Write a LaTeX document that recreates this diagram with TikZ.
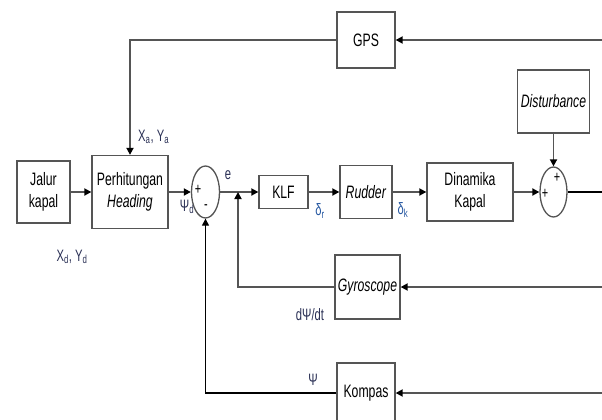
\documentclass[tikz,border=0pt]{standalone}
\usepackage{fontspec}
\setmainfont[FakeStretch=0.68]{Liberation Sans}
\usetikzlibrary{arrows.meta,shapes.geometric}
\definecolor{ln}{HTML}{555555}
\definecolor{lab}{HTML}{2A3055}
\definecolor{dlt}{HTML}{2456A0}
\begin{document}
\begin{tikzpicture}[x=1pt,y=-1pt,
 blk/.style={draw=ln, line width=1.3pt, fill=white, inner sep=0pt, font=\fontsize{18}{22}\selectfont, align=center},
 sumnode/.style={ellipse, draw=ln, line width=1.3pt, inner sep=0pt},
 conn/.style={draw=ln, line width=1.7pt},
 arr/.style={conn, -{Triangle[length=7pt,width=7pt,color=black]}},
 kline/.style={draw=black, line width=1.1pt},
 lbl/.style={text=lab, font=\fontsize{16.5}{18}\selectfont, inner sep=0pt},
 sgn/.style={text=black, font=\fontsize{16}{16}\selectfont, inner sep=0pt}
]
\useasboundingbox (0,0) rectangle (602,420);

\node[blk, minimum width=53pt, minimum height=62pt] (jalur) at (43.5,192) {Jalur\\kapal};
\node[blk, minimum width=76pt, minimum height=73pt] (perh) at (130,192) {Perhitungan\\\textit{Heading}};
\node[sumnode, minimum width=28pt, minimum height=52pt] (s1) at (205.5,192) {};
\node[blk, minimum width=49pt, minimum height=33pt] (klf) at (283.5,192) {KLF};
\node[blk, minimum width=52pt, minimum height=53pt] (rud) at (366,192) {\textit{Rudder}};
\node[blk, minimum width=86pt, minimum height=58pt] (din) at (470,192) {Dinamika\\Kapal};
\node[sumnode, minimum width=27pt, minimum height=50pt] (s2) at (553.5,192) {};
\node[blk, minimum width=72pt, minimum height=63pt] (dist) at (553.5,101.5) {\textit{Disturbance}};
\node[blk, minimum width=58pt, minimum height=56pt] (gps) at (366,40) {GPS};
\node[blk, minimum width=65pt, minimum height=64pt] (gyro) at (367.5,287) {\textit{Gyroscope}};
\node[blk, minimum width=58pt, minimum height=60pt] (komp) at (366,393) {Kompas};

\coordinate (j) at (238,192);
\coordinate (outR) at (602,192);
\coordinate (gpsR) at (602,40);
\coordinate (gpsC) at (130,40);
\coordinate (gyR) at (602,287);
\coordinate (gyL) at (238,287);
\coordinate (kR) at (602,393);
\coordinate (kL) at (205.5,393);

\draw[arr] (jalur) -- (perh);
\draw[arr] (perh) -- (s1);
\draw[arr] (s1) -- (klf);
\draw[arr] (klf) -- (rud);
\draw[arr] (rud) -- (din);
\draw[arr] (din) -- (s2);
\draw[arr] (dist) -- (s2);
\draw[black, line width=2.8pt] (s2) -- (outR);
\draw[arr] (gpsR) -- (gps);
\draw[arr] (gps.west) -- (gpsC) -- (perh.north);
\draw[arr] (gyR) -- (gyro);
\draw[arr] (gyro.west) -- (gyL) -- (j);
\draw[arr] (kR) -- (komp);
\draw[arr, kline] (komp.west) -- (kL) -- (s1.south);

\node[lbl] (xd) at (72,257) {X\textsubscript{d}, Y\textsubscript{d}};
\node[lbl, anchor=west] (xa) at (138,137) {X\textsubscript{a}, Y\textsubscript{a}};
\node[lbl] (psid) at (187,207) {Ψ\textsubscript{d}};
\node[sgn] (p1) at (198,190) {+};
\node[sgn] (m1) at (206,207) {-};
\node[lbl] (e) at (228,175) {e};
\node[lbl, text=dlt] (dr) at (320,211) {δ\textsubscript{r}};
\node[lbl, text=dlt] (dk) at (403,210) {δ\textsubscript{k}};
\node[sgn] (p2) at (557,178) {+};
\node[sgn] (p3) at (545,194) {+};
\node[lbl] (dpsi) at (310,315) {dΨ/dt};
\node[lbl] (psi) at (313,380) {Ψ};
\end{tikzpicture}
\end{document}
